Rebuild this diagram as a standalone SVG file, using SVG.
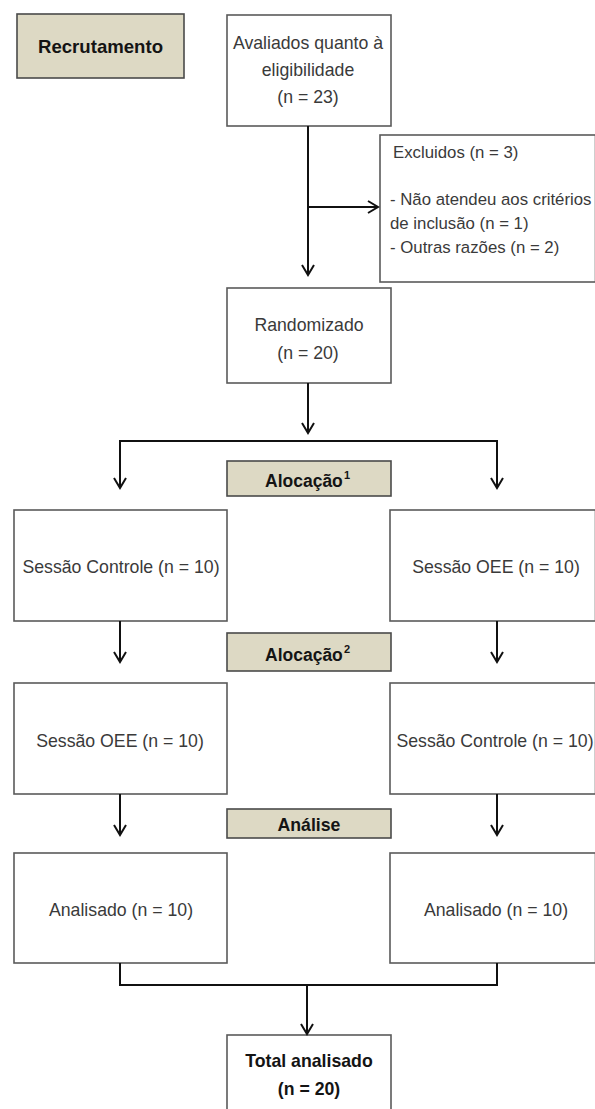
<svg xmlns="http://www.w3.org/2000/svg" width="595" height="1109" viewBox="0 0 595 1109">
<defs>
<style>
.box{fill:#ffffff;stroke:#5a5a5a;stroke-width:1.6}
.tan{fill:#ddd9c4;stroke:#4a4a4a;stroke-width:1.6}
.t{font-family:"Liberation Sans",Arial,sans-serif;font-size:17.7px;fill:#3a3a3a;text-anchor:middle}
.ts{font-family:"Liberation Sans",Arial,sans-serif;font-size:16.8px;fill:#3a3a3a}
.b{font-family:"Liberation Sans",Arial,sans-serif;font-size:17.7px;font-weight:bold;fill:#141414;text-anchor:middle}
.al{font-family:"Liberation Sans",Arial,sans-serif;font-size:17.5px;font-weight:bold;fill:#141414}
.sup{font-size:11px}
.c{fill:none;stroke:#111;stroke-width:2}
</style>
<marker id="ah" markerUnits="userSpaceOnUse" markerWidth="14" markerHeight="14" refX="11" refY="6" orient="auto" overflow="visible">
<path d="M1,0 L11,6 L1,12" fill="none" stroke="#111" stroke-width="2"/>
</marker>
</defs>
<rect width="595" height="1109" fill="#ffffff"/>

<g id="recrutamento">
<rect class="tan" x="17" y="14" width="167" height="64"/>
<text class="b" x="100.5" y="53" style="font-size:18.6px">Recrutamento</text>
</g>

<g id="avaliados">
<rect class="box" x="227" y="15" width="164" height="111"/>
<text class="t" x="308" y="49">Avaliados quanto à</text>
<text class="t" x="308" y="76">eligibilidade</text>
<text class="t" x="308" y="103">(n = 23)</text>
</g>

<g id="excluidos">
<rect class="box" x="380" y="135" width="215.5" height="147"/>
<text class="ts" x="393" y="158">Excluidos (n = 3)</text>
<text class="ts" x="390" y="205">- Não atendeu aos critérios</text>
<text class="ts" x="390" y="229">de inclusão (n = 1)</text>
<text class="ts" x="390" y="253">- Outras razões (n = 2)</text>
</g>

<g id="randomizado">
<rect class="box" x="227" y="288" width="164" height="95"/>
<text class="t" x="309" y="331">Randomizado</text>
<text class="t" x="308" y="359">(n = 20)</text>
</g>

<g id="alocacao1">
<rect class="tan" x="227" y="461" width="164" height="35"/>
<text class="al" x="265" y="487">Alocação<tspan class="sup" x="344" y="479">1</tspan></text>
</g>

<g id="sessao-controle-1">
<rect class="box" x="14" y="510" width="213" height="111"/>
<text class="t" x="121" y="573">Sessão Controle (n = 10)</text>
</g>

<g id="sessao-oee-1">
<rect class="box" x="390" y="510" width="205.5" height="111"/>
<text class="t" x="496" y="573">Sessão OEE (n = 10)</text>
</g>

<g id="alocacao2">
<rect class="tan" x="227" y="633" width="164" height="38"/>
<text class="al" x="265" y="661">Alocação<tspan class="sup" x="344" y="653">2</tspan></text>
</g>

<g id="sessao-oee-2">
<rect class="box" x="14" y="683" width="213" height="111"/>
<text class="t" x="120" y="747">Sessão OEE (n = 10)</text>
</g>

<g id="sessao-controle-2">
<rect class="box" x="390" y="683" width="205.5" height="111"/>
<text class="t" x="495" y="747">Sessão Controle (n = 10)</text>
</g>

<g id="analise">
<rect class="tan" x="227" y="809" width="164" height="29"/>
<text class="b" x="309" y="831">Análise</text>
</g>

<g id="analisado-1">
<rect class="box" x="14" y="853" width="213" height="110"/>
<text class="t" x="121" y="916">Analisado (n = 10)</text>
</g>

<g id="analisado-2">
<rect class="box" x="390" y="853" width="205.5" height="110"/>
<text class="t" x="496" y="916">Analisado (n = 10)</text>
</g>

<g id="total">
<rect class="box" x="227" y="1035" width="164" height="90"/>
<text class="b" x="309" y="1067">Total analisado</text>
<text class="b" x="309" y="1095">(n = 20)</text>
</g>

<g id="connectors">
<path class="c" d="M308,126 L308,275" marker-end="url(#ah)"/>
<path class="c" d="M308,207 L378,207" marker-end="url(#ah)"/>
<path class="c" d="M308,383 L308,433" marker-end="url(#ah)"/>
<path class="c" d="M120,441 L497,441"/>
<path class="c" d="M120,440 L120,488" marker-end="url(#ah)"/>
<path class="c" d="M497,440 L497,488" marker-end="url(#ah)"/>
<path class="c" d="M120,621 L120,662" marker-end="url(#ah)"/>
<path class="c" d="M497,621 L497,662" marker-end="url(#ah)"/>
<path class="c" d="M120,794 L120,835" marker-end="url(#ah)"/>
<path class="c" d="M497,794 L497,835" marker-end="url(#ah)"/>
<path class="c" d="M120,963 L120,985 L497,985 L497,963"/>
<path class="c" d="M307,985 L307,1034" marker-end="url(#ah)"/>
</g>
</svg>
